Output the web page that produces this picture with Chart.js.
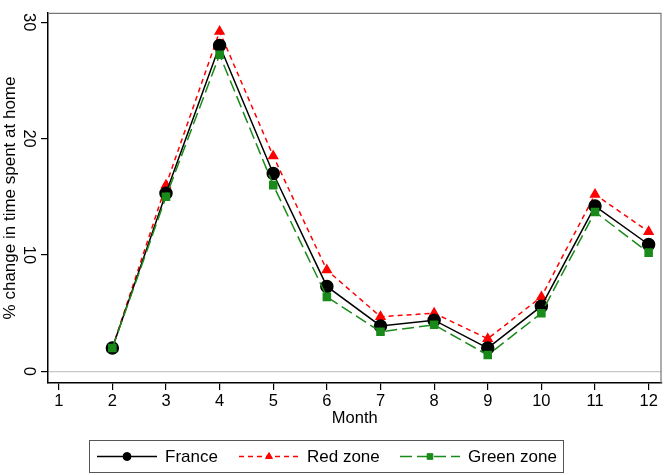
<!DOCTYPE html>
<html>
<head>
<meta charset="utf-8">
<script src="https://cdn.jsdelivr.net/npm/chart.js@4/dist/chart.umd.min.js"></script>
<style>
  html, body { margin: 0; padding: 0; background: #fff; }
  #wrap { width: 669px; height: 475px; }
</style>
</head>
<body>
<div id="wrap"><canvas id="myChart" width="669" height="475"></canvas></div>
<script>
const MONTHS = [2, 3, 4, 5, 6, 7, 8, 9, 10, 11, 12];
const X_TICKS = [1, 2, 3, 4, 5, 6, 7, 8, 9, 10, 11, 12];
const Y_TICKS = [0, 10, 20, 30];

const france = [2.0, 15.3, 28.0, 17.0, 7.3, 3.9, 4.4, 2.0, 5.6, 14.2, 10.9];
const redZone = [2.0, 16.0, 29.2, 18.5, 8.7, 4.7, 5.0, 2.8, 6.4, 15.2, 12.0];
const greenZone = [2.0, 15.0, 27.2, 16.0, 6.4, 3.4, 4.0, 1.4, 5.0, 13.7, 10.2];

const FONT = 'Liberation Sans, Arial, Helvetica, sans-serif';
const toXY = vals => vals.map((v, i) => ({ x: MONTHS[i], y: v }));

// frame round the plot + legend box under the axis
const frameAndLegend = {
    id: 'frameAndLegend',
    afterDraw(chart) {
        const { ctx, chartArea: a } = chart;
        ctx.save();
        ctx.strokeStyle = '#777';
        ctx.lineWidth = 1.2;
        ctx.beginPath();
        ctx.moveTo(a.left, a.top + 0.5);
        ctx.lineTo(a.right - 0.5, a.top + 0.5);
        ctx.lineTo(a.right - 0.5, a.bottom);
        ctx.stroke();

        // legend
        const box = { x: 89.5, y: 440.5, w: 474, h: 32 };
        ctx.strokeStyle = '#555';
        ctx.lineWidth = 1;
        ctx.strokeRect(box.x, box.y, box.w, box.h);
        const cy = box.y + box.h / 2;
        const items = [{ x0: 97, label: 'France' }, { x0: 239, label: 'Red zone' }, { x0: 400, label: 'Green zone' }];
        chart.data.datasets.forEach((ds, i) => {
            const it = items[i];
            ctx.save();
            ctx.strokeStyle = ds.borderColor;
            ctx.lineWidth = ds.borderWidth;
            ctx.setLineDash(ds.borderDash || []);
            ctx.beginPath();
            ctx.moveTo(it.x0, cy);
            ctx.lineTo(it.x0 + 60, cy);
            ctx.stroke();
            ctx.restore();
            ctx.fillStyle = ds.pointBackgroundColor;
            ctx.strokeStyle = ds.pointBorderColor;
            Chart.helpers.drawPoint(ctx, {
                pointStyle: ds.pointStyle, radius: 4, borderWidth: 1
            }, it.x0 + 30, cy);
            ctx.fillStyle = '#000';
            ctx.font = '17px ' + FONT;
            ctx.textBaseline = 'middle';
            ctx.fillText(it.label, it.x0 + 68, cy + 1);
        });
        ctx.restore();
    }
};

new Chart(document.getElementById('myChart'), {
    type: 'line',
    data: {
        datasets: [
            {
                label: 'France',
                data: toXY(france),
                borderColor: '#000',
                backgroundColor: '#000',
                pointBackgroundColor: '#000',
                pointBorderColor: '#000',
                borderWidth: 1.5,
                pointStyle: 'circle',
                pointRadius: 6,
                order: 1,
            },
            {
                label: 'Red zone',
                data: toXY(redZone),
                borderColor: '#ff0000',
                backgroundColor: '#ff0000',
                pointBackgroundColor: '#ff0000',
                pointBorderColor: '#ff0000',
                borderWidth: 1.5,
                borderDash: [5, 4],
                pointStyle: 'triangle',
                pointRadius: 5,
                order: 2,
            },
            {
                label: 'Green zone',
                data: toXY(greenZone),
                borderColor: '#1a8a1a',
                backgroundColor: '#1a8a1a',
                pointBackgroundColor: '#1a8a1a',
                pointBorderColor: '#1a8a1a',
                borderWidth: 1.5,
                borderDash: [12, 5],
                pointStyle: 'rect',
                pointRadius: 5,
                order: 0,
            }
        ]
    },
    options: {
        responsive: false,
        animation: false,
        layout: { padding: { top: 3, right: 1, bottom: 47, left: 0 } },
        plugins: { legend: { display: false }, tooltip: { enabled: false } },
        scales: {
            x: {
                type: 'linear',
                min: 0.8,
                max: 12.24,
                afterBuildTicks: s => { s.ticks = X_TICKS.map(v => ({ value: v })); },
                afterFit: s => { s.height = 45; },
                grid: { display: true, drawOnChartArea: false, tickLength: 7, tickColor: '#000', lineWidth: 1.2 },
                border: { display: true, color: '#000', width: 1.5 },
                ticks: { color: '#000', font: { family: FONT, size: 16.5 }, padding: 2, maxRotation: 0 },
                title: { display: true, text: 'Month', color: '#000', font: { family: FONT, size: 16.5 }, padding: { top: 0, bottom: 0 } },
            },
            y: {
                min: -1,
                max: 30.8,
                afterBuildTicks: s => { s.ticks = Y_TICKS.map(v => ({ value: v })); },
                afterFit: s => { s.width = 48; },
                grid: {
                    color: c => (c.tick && c.tick.value === 0 ? '#c8c8c8' : 'transparent'),
                    tickColor: '#000',
                    tickLength: 7,
                    lineWidth: 1.2,
                },
                border: { display: true, color: '#000', width: 1.5 },
                ticks: { color: '#000', font: { family: FONT, size: 16.5 }, padding: 3, minRotation: -90, maxRotation: -90, crossAlign: 'center' },
                title: { display: true, text: '% change in time spent at home', color: '#000', font: { family: FONT, size: 17 }, padding: { top: 0, bottom: 2 } },
            }
        }
    },
    plugins: [frameAndLegend]
});
</script>
</body>
</html>
